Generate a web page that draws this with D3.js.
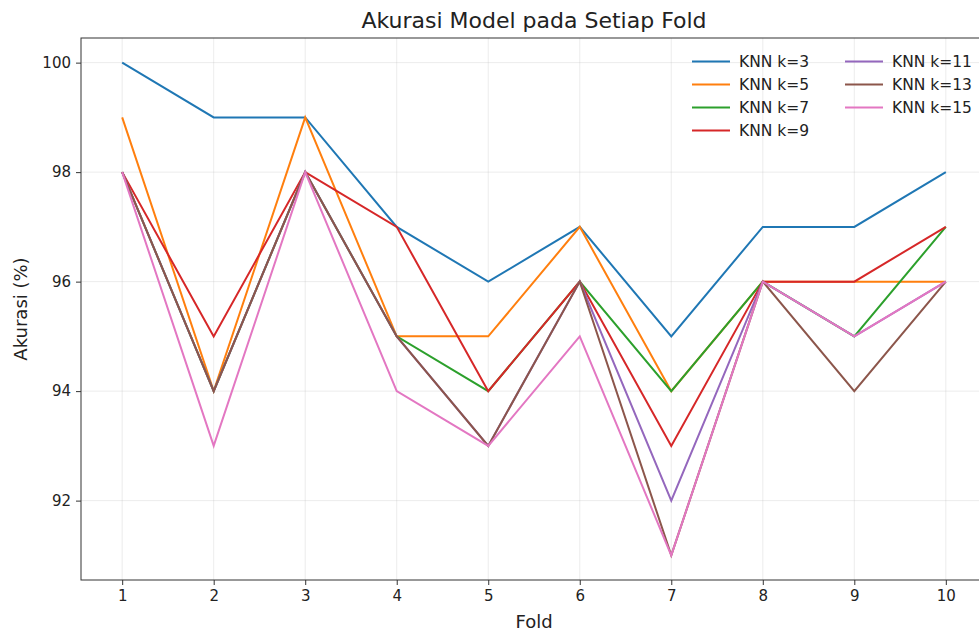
<!DOCTYPE html>
<html><head><meta charset="utf-8">
<script src="https://cdn.jsdelivr.net/npm/d3@7/dist/d3.min.js"></script>
<style>body{margin:0;background:#fff;} svg{display:block;font-family:"DejaVu Sans",sans-serif;}</style>
</head><body>
<svg id="c" width="979" height="634"></svg>
<script>
const folds = [1,2,3,4,5,6,7,8,9,10];
const seriesNames = ["KNN k=3","KNN k=5","KNN k=7","KNN k=9","KNN k=11","KNN k=13","KNN k=15"];
const k3  = [100,99,99,97,96,97,95,97,97,98];
const k5  = [99,94,99,95,95,97,94,96,96,96];
const k7  = [98,94,98,95,94,96,94,96,95,97];
const k9  = [98,95,98,97,94,96,93,96,96,97];
const k11 = [98,94,98,95,93,96,92,96,95,96];
const k13 = [98,94,98,95,93,96,91,96,94,96];
const k15 = [98,93,98,94,93,95,91,96,95,96];
const yTicks = [92,94,96,98,100];
const colors = ["#1f77b4","#ff7f0e","#2ca02c","#d62728","#9467bd","#8c564b","#e377c2"];
const allSeries = [k3,k5,k7,k9,k11,k13,k15];

const svg = d3.select("#c");
const L=81, R=987, T=38, B=580;
const x = d3.scaleLinear().domain([0.55,10.45]).range([L,R]);
const y = d3.scaleLinear().domain([90.55,100.45]).range([B,T]);

// grid
const g = svg.append("g");
g.selectAll(".gx").data(folds).enter().append("line")
 .attr("x1",d=>x(d)).attr("x2",d=>x(d)).attr("y1",T).attr("y2",B)
 .attr("stroke","#b0b0b0").attr("stroke-opacity",0.3).attr("stroke-width",0.8);
g.selectAll(".gy").data(yTicks).enter().append("line")
 .attr("x1",L).attr("x2",R).attr("y1",d=>y(d)).attr("y2",d=>y(d))
 .attr("stroke","#b0b0b0").attr("stroke-opacity",0.3).attr("stroke-width",0.8);

// lines
const line = d3.line().x((d,i)=>x(folds[i])).y(d=>y(d));
allSeries.forEach((s,i)=>{
  svg.append("path").datum(s).attr("d",line).attr("fill","none")
   .attr("stroke",colors[i]).attr("stroke-width",2);
});

// axes
const xAxis = d3.axisBottom(x).tickValues(folds).tickSize(5).tickPadding(5).tickFormat(d3.format("d"));
const yAxis = d3.axisLeft(y).tickValues(yTicks).tickSize(5).tickPadding(5).tickFormat(d3.format("d"));
const ax = svg.append("g").attr("transform",`translate(0,${B})`).call(xAxis);
const ay = svg.append("g").attr("transform",`translate(${L},0)`).call(yAxis);
[ax,ay].forEach(a=>{
  a.select(".domain").remove();
  a.selectAll("text").attr("font-size",15).attr("fill","#222").attr("font-family","DejaVu Sans");
  a.selectAll("line").attr("stroke","#333");
});
svg.append("rect").attr("x",L).attr("y",T).attr("width",R-L).attr("height",B-T)
 .attr("fill","none").attr("stroke","#333").attr("stroke-width",1);

// labels
svg.append("text").attr("x",(L+R)/2).attr("y",28).attr("text-anchor","middle")
 .attr("font-size",22).attr("fill","#222").text("Akurasi Model pada Setiap Fold");
svg.append("text").attr("x",(L+R)/2).attr("y",628).attr("text-anchor","middle")
 .attr("font-size",18).attr("fill","#222").text("Fold");
svg.append("text").attr("transform",`translate(27,${(T+B)/2}) rotate(-90)`).attr("text-anchor","middle")
 .attr("font-size",18).attr("fill","#222").text("Akurasi (%)");

// legend
const lg = svg.append("g");
seriesNames.forEach((n,i)=>{
  const col = i<4?0:1, row = i<4?i:i-4;
  const lx = col===0?692:845, ly = 61.5+row*23;
  lg.append("line").attr("x1",lx).attr("x2",lx+38).attr("y1",ly).attr("y2",ly)
   .attr("stroke",colors[i]).attr("stroke-width",2);
  lg.append("text").attr("x",lx+47).attr("y",ly+5.5).attr("font-size",15.5).attr("fill","#222").text(n);
});
</script>
</body></html>
